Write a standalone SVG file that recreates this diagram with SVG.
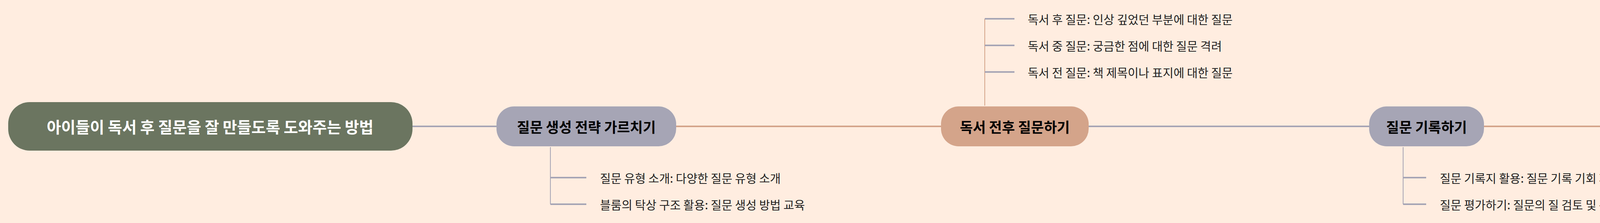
<svg xmlns="http://www.w3.org/2000/svg" width="5366" height="570" viewBox="0 0 5366 570">
<style>
text{font-family:"Noto Sans CJK KR","Noto Sans",sans-serif;dominant-baseline:central}
.main{font-size:36px;font-weight:bold;fill:#000;text-anchor:middle}
.leaf{font-size:30px;fill:#222}
.g{stroke:#a6a5b5;fill:none}
.o{stroke:#d4a48a;fill:none}
</style>
<rect width="5366" height="570" fill="#ffede0"/>
<g id="connectors">
<line class="g" x1="1056" y1="323" x2="1271" y2="323" stroke-width="4"/>
<line class="o" x1="1731" y1="323" x2="2409" y2="323" stroke-width="4"/>
<line class="g" x1="2787" y1="323" x2="3505" y2="323" stroke-width="4"/>
<line class="o" x1="3799" y1="323" x2="4484" y2="323" stroke-width="4"/>
<path class="g" d="M1409 376V522" stroke-width="2"/>
<path class="g" d="M1409 454H1501M1409 522H1501" stroke-width="4"/>
<path class="o" d="M2521 270V48" stroke-width="2"/>
<path class="g" d="M2521 48H2597M2521 116H2597M2521 184H2597" stroke-width="4"/>
<path class="g" d="M3592 376V522" stroke-width="2"/>
<path class="g" d="M3592 454H3651M3592 522H3651" stroke-width="4"/>
<path class="o" d="M4590 270V116" stroke-width="2"/>
<path class="g" d="M4590 116H4661M4590 184H4661" stroke-width="4"/>
</g>
<g id="root"><rect x="21" y="261" width="1035" height="124" rx="55" fill="#6b7560"/><text x="538" y="323" class="main" style="font-size:40px;fill:#fff">아이들이 독서 후 질문을 잘 만들도록 도와주는 방법</text></g>
<g id="n1"><rect x="1271" y="272" width="460" height="102" rx="45" fill="#a6a5b5"/><text x="1501" y="323" class="main">질문 생성 전략 가르치기</text></g>
<g id="n2"><rect x="2409" y="272" width="378" height="102" rx="45" fill="#d4a48a"/><text x="2598" y="323" class="main">독서 전후 질문하기</text></g>
<g id="n3"><rect x="3505" y="272" width="294" height="102" rx="45" fill="#a6a5b5"/><text x="3652" y="323" class="main">질문 기록하기</text></g>
<g id="n4"><rect x="4484" y="272" width="354" height="102" rx="45" fill="#d4a48a"/><text x="4661" y="323" class="main">그룹 활동 및 토론</text></g>
<g id="leaves">
<text class="leaf" x="1536" y="454">질문 유형 소개: 다양한 질문 유형 소개</text>
<text class="leaf" x="1536" y="522">블룸의 탁상 구조 활용: 질문 생성 방법 교육</text>
<text class="leaf" x="2631" y="48">독서 후 질문: 인상 깊었던 부분에 대한 질문</text>
<text class="leaf" x="2631" y="116">독서 중 질문: 궁금한 점에 대한 질문 격려</text>
<text class="leaf" x="2631" y="184">독서 전 질문: 책 제목이나 표지에 대한 질문</text>
<text class="leaf" x="3686" y="454">질문 기록지 활용: 질문 기록 기회 제공</text>
<text class="leaf" x="3686" y="522">질문 평가하기: 질문의 질 검토 및 논의</text>
<text class="leaf" x="4695" y="116">질문 만들기 게임: 재미있는 질문 생성 활동</text>
<text class="leaf" x="4695" y="184">소그룹 토론: 질문에 대한 토론 진행</text>
</g>
</svg>
